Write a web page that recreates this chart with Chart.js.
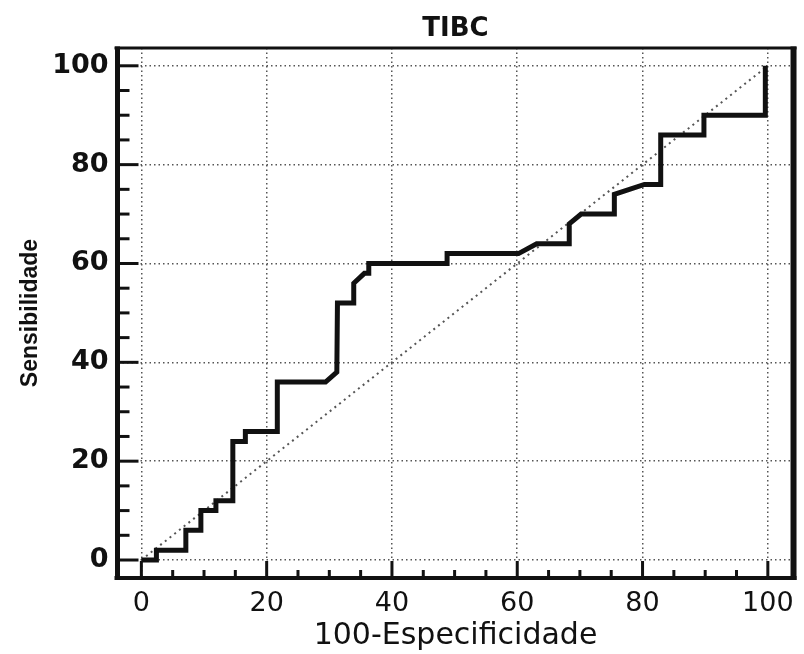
<!DOCTYPE html>
<html>
<head>
<meta charset="utf-8">
<script src="https://cdn.jsdelivr.net/npm/chart.js@4/dist/chart.umd.min.js"></script>
<style>
  html, body { margin: 0; padding: 0; background: #ffffff; }
  #wrap { width: 804px; height: 654px; }
</style>
</head>
<body>
<div id="wrap"><canvas id="c" width="804" height="654"></canvas></div>
<script>
// ---- data ----
const chartTitle = 'TIBC';
const xTitle = '100-Especificidade';
const yTitle = 'Sensibilidade';
const xTickValues = [0, 20, 40, 60, 80, 100];
const yTickValues = [0, 20, 40, 60, 80, 100];
const minorStep = 5;
// ROC curve (100-Specificity, Sensitivity)
const rocX = [0, 2.4, 2.4, 7.1, 7.1, 9.5, 9.5, 11.9, 11.9, 14.6, 14.6, 16.6, 16.6, 21.7, 21.7, 29.4, 31.2, 31.3, 33.9, 33.9, 35.6, 36.3, 36.3, 48.8, 48.8, 60.2, 63.1, 68.3, 68.3, 70.2, 75.5, 75.5, 80.3, 82.9, 82.9, 89.8, 89.8, 99.6, 99.6];
const rocY = [0, 0, 2, 2, 6, 6, 10, 10, 12, 12, 24, 24, 26, 26, 36, 36, 38, 52, 52, 56, 58, 58, 60, 60, 62, 62, 64, 64, 68, 70, 70, 74, 76, 76, 86, 86, 90, 90, 100];
// reference diagonal
const diagX = [0, 100];
const diagY = [0, 100];

const toPts = (xs, ys) => xs.map((v, i) => ({ x: v, y: ys[i] }));

const framePlugin = {
  id: 'frame',
  afterDatasetsDraw(chart) {
    const { ctx, chartArea: a, scales } = chart;
    const xs = scales.x, ys = scales.y;
    ctx.save();
    ctx.strokeStyle = '#111';
    ctx.lineCap = 'butt';
    // inward ticks
    ctx.lineWidth = 3;
    for (let v = yTickValues[0]; v <= yTickValues[yTickValues.length - 1]; v += minorStep) {
      const major = yTickValues.includes(v);
      const py = ys.getPixelForValue(v);
      ctx.beginPath();
      ctx.moveTo(a.left, py);
      ctx.lineTo(a.left + (major ? 21 : 12), py);
      ctx.stroke();
    }
    for (let v = xTickValues[0]; v <= xTickValues[xTickValues.length - 1]; v += minorStep) {
      const major = xTickValues.includes(v);
      const px = xs.getPixelForValue(v);
      ctx.beginPath();
      ctx.moveTo(px, a.bottom);
      ctx.lineTo(px, a.bottom - (major ? 17 : 8));
      ctx.stroke();
    }
    // frame
    const side = (x1, y1, x2, y2, w) => {
      ctx.lineWidth = w;
      ctx.beginPath(); ctx.moveTo(x1, y1); ctx.lineTo(x2, y2); ctx.stroke();
    };
    side(a.left - 3, a.top, a.right + 3, a.top, 3);
    side(a.left - 3, a.bottom, a.right + 3, a.bottom, 4);
    side(a.left, a.top - 1.5, a.left, a.bottom + 2, 5);
    side(a.right, a.top - 1.5, a.right, a.bottom + 2, 6);
    ctx.restore();
  }
};

new Chart(document.getElementById('c'), {
  type: 'scatter',
  data: {
    datasets: [
      {
        data: toPts(diagX, diagY),
        xAxisID: 'x',
        yAxisID: 'y',
        showLine: true,
        borderColor: '#555',
        borderWidth: 2,
        borderDash: [2, 4],
        pointRadius: 0,
        order: 2
      },
      {
        data: toPts(rocX, rocY),
        xAxisID: 'x',
        yAxisID: 'y',
        showLine: true,
        borderColor: '#111',
        borderWidth: 5,
        borderJoinStyle: 'miter',
        borderCapStyle: 'butt',
        pointRadius: 0,
        order: 1
      }
    ]
  },
  options: {
    responsive: false,
    animation: false,
    layout: { padding: { left: 0, right: 7.5, top: 0, bottom: 0 } },
    plugins: {
      legend: { display: false },
      tooltip: { enabled: false },
      title: { display: false }
    },
    scales: {
      x: {
        type: 'linear',
        position: 'bottom',
        min: -3.81,
        max: 104.1,
        afterBuildTicks: (s) => { s.ticks = xTickValues.map(v => ({ value: v })); },
        afterFit: (s) => { s.height = 76; },
        ticks: {
          color: '#111',
          padding: 10,
          autoSkip: false,
          maxRotation: 0,
          font: { family: 'DejaVu Sans', size: 27 }
        },
        grid: { color: '#555', lineWidth: 1.5, drawTicks: false },
        border: { display: false, dash: [1.5, 3] },
        title: {
          display: true,
          text: xTitle,
          color: '#111',
          font: { family: 'DejaVu Sans', size: 30 },
          padding: { top: 0, bottom: 0 }
        }
      },
      y: {
        type: 'linear',
        position: 'left',
        min: -3.64,
        max: 103.6,
        afterBuildTicks: (s) => { s.ticks = yTickValues.map(v => ({ value: v })); },
        afterFit: (s) => { s.width = 117.5; },
        ticks: {
          color: '#111',
          padding: 9,
          autoSkip: false,
          font: { family: 'DejaVu Sans', size: 27, weight: 'bold' }
        },
        grid: { color: '#555', lineWidth: 1.5, drawTicks: false },
        border: { display: false, dash: [1.5, 3] },
        title: {
          display: true,
          text: yTitle,
          color: '#111',
          font: { family: 'Liberation Sans', size: 23, weight: 'bold' },
          padding: { top: 17, bottom: 0 }
        }
      },
      top: {
        type: 'linear',
        axis: 'x',
        position: 'top',
        display: true,
        min: 0,
        max: 1,
        afterFit: (s) => { s.height = 48; },
        ticks: { display: false },
        grid: { display: false, drawTicks: false },
        border: { display: false },
        title: {
          display: true,
          text: chartTitle,
          color: '#111',
          font: { family: 'DejaVu Sans', size: 26, weight: 'bold' },
          padding: { top: 14, bottom: 0 }
        }
      }
    }
  },
  plugins: [framePlugin]
});
</script>
</body>
</html>
